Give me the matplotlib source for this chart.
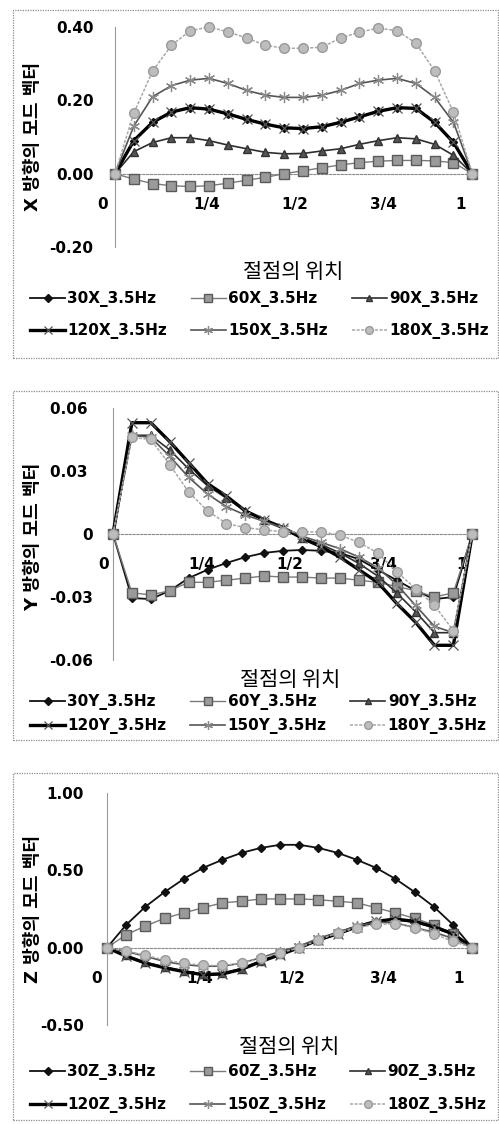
import matplotlib
matplotlib.use('Agg')
import matplotlib.pyplot as plt
from matplotlib.patches import Rectangle

plt.rcParams['font.family'] = ['DejaVu Sans', 'Noto Sans CJK KR']

# ---------------- data ----------------
node = [0, 1, 2, 3, 4, 5, 6, 7, 8, 9, 10, 11, 12, 13, 14, 15, 16, 17, 18, 19]
series_names = ['30', '60', '90', '120', '150', '180']

x_30 = [0, 0.09, 0.14, 0.168, 0.18, 0.176, 0.163, 0.148, 0.135, 0.125, 0.123, 0.128, 0.14, 0.155, 0.17, 0.18, 0.178, 0.14, 0.085, 0]
x_60 = [0, -0.015, -0.027, -0.033, -0.035, -0.033, -0.026, -0.018, -0.01, 0.0, 0.008, 0.016, 0.024, 0.03, 0.034, 0.036, 0.036, 0.035, 0.03, 0]
x_90 = [0, 0.06, 0.085, 0.098, 0.098, 0.09, 0.078, 0.068, 0.058, 0.054, 0.055, 0.062, 0.068, 0.08, 0.09, 0.098, 0.095, 0.08, 0.05, 0]
x_120 = [0, 0.09, 0.14, 0.168, 0.18, 0.176, 0.163, 0.148, 0.135, 0.125, 0.123, 0.128, 0.14, 0.155, 0.17, 0.18, 0.178, 0.14, 0.085, 0]
x_150 = [0, 0.13, 0.21, 0.24, 0.255, 0.26, 0.246, 0.227, 0.214, 0.208, 0.208, 0.214, 0.227, 0.246, 0.255, 0.26, 0.246, 0.208, 0.14, 0]
x_180 = [0, 0.165, 0.28, 0.35, 0.39, 0.40, 0.387, 0.37, 0.35, 0.342, 0.342, 0.345, 0.37, 0.386, 0.397, 0.39, 0.356, 0.28, 0.167, 0]

y_30 = [0, -0.0305, -0.031, -0.027, -0.021, -0.017, -0.0138, -0.011, -0.009, -0.008, -0.0076, -0.008, -0.009, -0.012, -0.017, -0.022, -0.027, -0.031, -0.03, 0]
y_60 = [0, -0.028, -0.029, -0.027, -0.023, -0.023, -0.022, -0.021, -0.02, -0.0205, -0.0205, -0.021, -0.021, -0.022, -0.023, -0.025, -0.027, -0.03, -0.028, 0]
y_90 = [0, 0.047, 0.047, 0.04, 0.031, 0.023, 0.017, 0.011, 0.0067, 0.003, -0.002, -0.005, -0.009, -0.014, -0.02, -0.028, -0.037, -0.047, -0.047, 0]
y_120 = [0, 0.053, 0.053, 0.044, 0.034, 0.024, 0.018, 0.011, 0.0067, 0.003, -0.002, -0.006, -0.011, -0.017, -0.023, -0.033, -0.042, -0.053, -0.053, 0]
y_150 = [0, 0.047, 0.046, 0.037, 0.027, 0.019, 0.013, 0.009, 0.006, 0.003, -0.001, -0.004, -0.007, -0.011, -0.016, -0.024, -0.034, -0.044, -0.047, 0]
y_180 = [0, 0.046, 0.045, 0.033, 0.02, 0.011, 0.005, 0.003, 0.002, 0.001, 0.001, 0.001, -0.0005, -0.004, -0.009, -0.018, -0.026, -0.034, -0.046, 0]

z_30 = [0, 0.148, 0.265, 0.36, 0.445, 0.516, 0.568, 0.613, 0.645, 0.665, 0.665, 0.645, 0.613, 0.568, 0.516, 0.445, 0.36, 0.265, 0.148, 0]
z_60 = [0, 0.084, 0.14, 0.19, 0.225, 0.258, 0.29, 0.3, 0.315, 0.315, 0.315, 0.31, 0.3, 0.29, 0.258, 0.225, 0.19, 0.148, 0.09, 0]
z_90 = [0, -0.05, -0.095, -0.125, -0.15, -0.17, -0.165, -0.135, -0.085, -0.04, 0.005, 0.05, 0.095, 0.14, 0.17, 0.18, 0.165, 0.13, 0.085, 0]
z_120 = [0, -0.055, -0.1, -0.13, -0.155, -0.175, -0.17, -0.14, -0.09, -0.045, 0.0, 0.05, 0.09, 0.135, 0.17, 0.185, 0.17, 0.135, 0.09, 0]
z_150 = [0, -0.025, -0.055, -0.09, -0.11, -0.12, -0.12, -0.1, -0.065, -0.025, 0.01, 0.06, 0.1, 0.14, 0.165, 0.16, 0.13, 0.1, 0.06, 0]
z_180 = [0, -0.02, -0.05, -0.08, -0.1, -0.115, -0.115, -0.1, -0.07, -0.035, 0.0, 0.05, 0.095, 0.13, 0.15, 0.155, 0.13, 0.09, 0.04, 0]

x_tick_labels = ['0', '1/4', '1/2', '3/4', '1']
x_title = '절점의 위치'

# ---------------- styles ----------------
styles = [
    dict(color='#111111', lw=1.3, marker='D', ms=4.5, mfc='#111111', mec='#111111'),
    dict(color='#7a7a7a', lw=1.0, marker='s', ms=7, mfc='#9a9a9a', mec='#5a5a5a'),
    dict(color='#2e2e2e', lw=1.2, marker='^', ms=6, mfc='#555555', mec='#333333'),
    dict(color='#000000', lw=2.4, marker='x', ms=7, mec='#555555', mew=0.9),
    dict(color='#555555', lw=1.2, marker=(6, 2, 0), ms=8, mec='#8a8a8a', mew=0.9),
    dict(color='#a8a8a8', lw=1.1, marker='o', ms=7, mfc='#bdbdbd', mec='#9a9a9a', ls=(0, (2, 1))),
]

W, H = 499, 1124
fig = plt.figure(figsize=(W / 100, H / 100), dpi=100)

panels = [
    dict(letter='X', data=[x_30, x_60, x_90, x_120, x_150, x_180],
         zero_px=115, right_px=477, top=27, bottom=247, ylim=(-0.2, 0.4),
         yticks=[-0.2, 0.0, 0.2, 0.4], ylabels=['-0.20', '0.00', '0.20', '0.40'], ypad=15.5,
         xticks=[-0.64, 4.89, 9.57, 14.25, 18.35],
         ylab='X 방향의 모드 벡터', ylab_y=136, title_xy=(293, 272), rows=(300, 333),
         border=(13, 10, 498, 358)),
    dict(letter='Y', data=[y_30, y_60, y_90, y_120, y_150, y_180],
         zero_px=113, right_px=477, top=408, bottom=660, ylim=(-0.06, 0.06),
         yticks=[-0.06, -0.03, 0.0, 0.03, 0.06], ylabels=['-0.06', '-0.03', '0', '0.03 ', '0.06 '], ypad=14.5,
         xticks=[-0.51, 4.69, 9.36, 14.28, 18.45],
         ylab='Y 방향의 모드 벡터', ylab_y=537, title_xy=(290, 680), rows=(703, 728),
         border=(13, 391, 498, 740)),
    dict(letter='Z', data=[z_30, z_60, z_90, z_120, z_150, z_180],
         zero_px=107, right_px=477, top=793, bottom=1025, ylim=(-0.5, 1.0),
         yticks=[-0.5, 0.0, 0.5, 1.0], ylabels=['-0.50', '0.00', '0.50', '1.00'], ypad=16.5,
         xticks=[-0.54, 4.84, 9.6, 14.36, 18.31],
         ylab='Z 방향의 모드 벡터', ylab_y=909, title_xy=(289, 1047), rows=(1073, 1107),
         border=(13, 773, 498, 1120)),
]

XL, XR = -0.8, 19.25
order = [0, 3, 1, 4, 2, 5]

for p in panels:
    scale = (p['right_px'] - p['zero_px']) / XR
    left_px = p['zero_px'] + XL * scale
    ax = fig.add_axes([left_px / W, 1 - p['bottom'] / H,
                       (p['right_px'] - left_px) / W, (p['bottom'] - p['top']) / H])
    ax.set_xlim(XL, XR)
    ax.set_ylim(*p['ylim'])
    ax.patch.set_alpha(0)
    for s in ['top', 'right']:
        ax.spines[s].set_visible(False)
    ax.spines['left'].set_position(('data', 0))
    ax.spines['left'].set_color('#9a9a9a')
    ax.spines['left'].set_linewidth(0.8)
    ax.spines['bottom'].set_position(('data', 0))
    ax.spines['bottom'].set_bounds(0, XR)
    ax.spines['bottom'].set_color('#8a8a8a')
    ax.spines['bottom'].set_linewidth(0.8)
    ax.spines['bottom'].set_linestyle((0, (2, 1.5)))

    handles = []
    for i, (vals, st) in enumerate(zip(p['data'], styles)):
        h, = ax.plot(node, vals, label=f"{series_names[i]}{p['letter']}_3.5Hz",
                     clip_on=False, zorder=3 + i, **st)
        handles.append(h)

    ax.set_yticks(p['yticks'])
    ax.set_yticklabels(p['ylabels'], fontsize=11, fontweight='bold')
    ax.set_xticks(p['xticks'])
    ax.set_xticklabels(x_tick_labels, fontsize=11, fontweight='bold')
    ax.tick_params(axis='y', length=0, pad=p['ypad'])
    ax.tick_params(axis='x', length=0, pad=16.5)

    fig.text(33 / W, 1 - p['ylab_y'] / H, p['ylab'], rotation=90, ha='center', va='center',
             fontsize=13, fontweight='bold', family=['DejaVu Sans', 'Noto Sans CJK KR'])
    tx, ty = p['title_xy']
    fig.text(tx / W, 1 - ty / H, x_title, ha='center', va='center', fontsize=15,
             family=['Noto Sans CJK KR'])

    r1, r2 = p['rows']
    lab_sp = ((r2 - r1) - 17) / 15.3
    fig.legend(handles=[handles[k] for k in order],
               labels=[handles[k].get_label() for k in order],
               ncol=3, loc='upper left', bbox_to_anchor=(30 / W, 1 - (r1 - 9) / H),
               frameon=False, prop={'weight': 'bold', 'size': 11},
               handlelength=2.3, handletextpad=0.15, columnspacing=1.55,
               markerscale=0.8, labelspacing=lab_sp, borderpad=0, borderaxespad=0)

    l, t, r, b = p['border']
    fig.add_artist(Rectangle((l / W, 1 - b / H), (r - l) / W, (b - t) / H,
                             transform=fig.transFigure, fill=False, ec='#8c8c8c',
                             lw=0.9, ls=(0, (1, 1))))

fig.savefig('out.png', dpi=100)
